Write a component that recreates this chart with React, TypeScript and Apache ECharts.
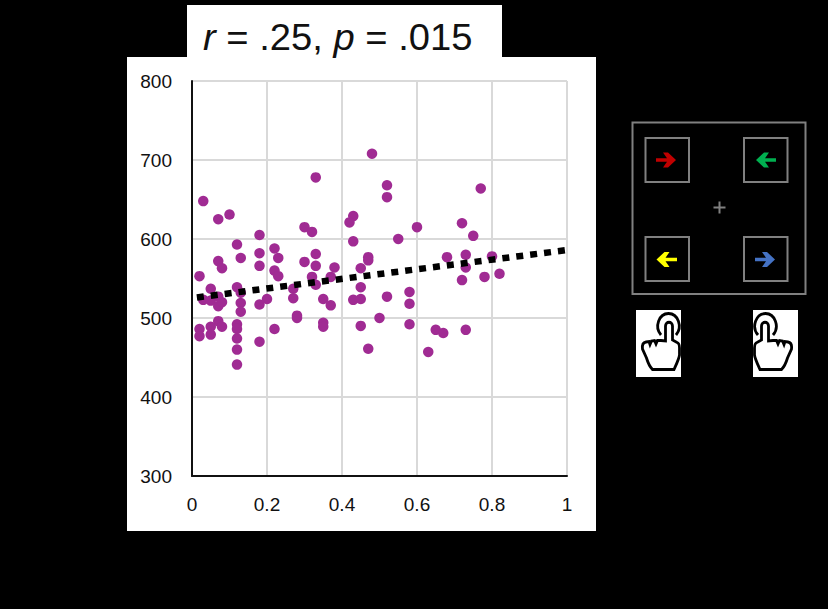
import React, { useEffect, useRef } from "react";
import * as echarts from "echarts";

const xValues = [
  0.03, 0.07, 0.1, 0.18, 0.12, 0.18, 0.13, 0.07, 0.08, 0.18, 0.02, 0.22, 0.23, 0.22, 0.23, 0.05, 0.12, 0.13, 0.03, 0.05,
  0.07, 0.07, 0.08, 0.13, 0.13, 0.18, 0.2, 0.27, 0.27, 0.28, 0.28, 0.02, 0.02, 0.05, 0.05, 0.07, 0.08, 0.12, 0.12, 0.12,
  0.12, 0.12, 0.18, 0.22, 0.3, 0.32, 0.33, 0.3, 0.33, 0.33, 0.38, 0.32, 0.33, 0.37, 0.35, 0.37, 0.35, 0.35, 0.43, 0.42,
  0.43, 0.47, 0.47, 0.45, 0.45, 0.43, 0.45, 0.5, 0.45, 0.47, 0.48, 0.52, 0.52, 0.6, 0.55, 0.77, 0.72, 0.75, 0.68, 0.73,
  0.73, 0.8, 0.72, 0.78, 0.82, 0.58, 0.58, 0.52, 0.58, 0.65, 0.67, 0.73, 0.63,
];
const yValues = [
  648, 625, 631, 605, 593, 582, 576, 572, 563, 566, 553, 588, 576, 560, 553, 537, 539, 532, 523, 522,
  527, 515, 520, 519, 508, 517, 524, 537, 525, 503, 500, 486, 477, 489, 479, 496, 489, 492, 486, 474,
  460, 441, 470, 486, 615, 609, 678, 571, 581, 566, 564, 552, 542, 552, 524, 516, 494, 489, 629, 621,
  597, 577, 573, 563, 539, 523, 524, 500, 490, 461, 708, 668, 653, 615, 600, 664, 620, 604, 577, 580,
  564, 578, 548, 552, 556, 533, 518, 527, 492, 485, 481, 485, 457,
];
const trendX = [0.013, 1];
const trendY = [526, 586];
const statR = ".25, ";
const statP = ".015";

const handPath =
  "M33.5 36 L33.5 21 C33.5 16 40.5 16 40.5 21 L40.5 35 L45 37.5 C47 38 47.5 40 47.5 43 L47.5 50 C47 54 44 60 42 64.5 L20.5 64.5 C18 62 16 58 14.5 53 L10.5 44 C10 40 11 37.5 14 37 L17 36.5 L18 39.5 L19.5 36 L22.5 35.5 L24 39 L25.5 35.5 L29 35.5 Z " +
  "M29 30 C22 22 27 8.5 36.5 8.5 C46 8.5 51 22 44 30";
echarts.graphic.registerShape("hand", echarts.graphic.extendPath(handPath, {}));

const box = (x: number, y: number, width: number, height: number, lineWidth: number) => ({
  type: "rect",
  shape: { x, y, width, height },
  style: { fill: "transparent", stroke: "#808080", lineWidth },
});

const arrow = (x1: number, x2: number, y: number, fill: string) => {
  const d = x2 > x1 ? 1 : -1;
  return {
    type: "polygon",
    shape: {
      points: [
        [x1, y - 1.8],
        [x2 - d * 9, y - 1.8],
        [x2 - d * 13, y - 7.5],
        [x2 - d * 8, y - 7.5],
        [x2, y],
        [x2 - d * 8, y + 7.5],
        [x2 - d * 13, y + 7.5],
        [x2 - d * 9, y + 1.8],
        [x1, y + 1.8],
      ],
    },
    style: { fill },
  };
};

export default function App() {
  const ref = useRef<HTMLDivElement>(null);
  useEffect(() => {
    document.body.style.margin = "0";
    document.body.style.background = "#000";
    const chart = echarts.init(ref.current!, null, { renderer: "svg" });
    const font = "'Liberation Sans', Arial, sans-serif";
    chart.setOption({
      animation: false,
      backgroundColor: "#000",
      grid: { left: 192, right: 261, top: 81, bottom: 133, containLabel: false },
      xAxis: {
        type: "value",
        min: 0,
        max: 1,
        interval: 0.2,
        axisLine: { show: true, onZero: false, lineStyle: { color: "#111", width: 2 } },
        axisTick: { show: false },
        splitLine: { show: true, lineStyle: { color: "#d9d9d9", width: 2 } },
        axisLabel: { color: "#111", fontFamily: font, fontSize: 19, margin: 19 },
      },
      yAxis: {
        type: "value",
        min: 300,
        max: 800,
        interval: 100,
        axisLine: { show: true, onZero: false, lineStyle: { color: "#111", width: 2 } },
        axisTick: { show: false },
        splitLine: { show: true, lineStyle: { color: "#d9d9d9", width: 2 } },
        axisLabel: { color: "#111", fontFamily: font, fontSize: 19, margin: 20 },
      },
      series: [
        {
          type: "scatter",
          symbol: "circle",
          symbolSize: 10.5,
          itemStyle: { color: "#a02b93", opacity: 1 },
          data: xValues.map((x, i) => [x, yValues[i]]),
          z: 3,
        },
        {
          type: "line",
          showSymbol: false,
          lineStyle: { color: "#000", width: 6.5, type: [7, 7] },
          data: trendX.map((x, i) => [x, trendY[i]]),
          z: 4,
        },
      ],
      graphic: {
        elements: [
          { type: "rect", z: -10, shape: { x: 127, y: 57, width: 469, height: 474 }, style: { fill: "#fff" } },
          { type: "rect", z: -10, shape: { x: 187, y: 5, width: 315, height: 53 }, style: { fill: "#fff" } },
          {
            type: "text",
            x: 203,
            y: 19,
            scaleX: 1.06,
            style: {
              text: "{i|r} = " + statR + "{i|p} = " + statP,
              fill: "#111",
              font: `36px ${font}`,
              rich: { i: { font: `italic 36px ${font}`, fill: "#111" } },
            },
          },
          box(632.5, 122.5, 173, 171.5, 2),
          box(645.5, 138, 43.5, 44, 2),
          box(744, 138, 43.5, 44, 2),
          box(645.5, 237, 43.5, 44, 2),
          box(744, 237, 43.5, 44, 2),
          { type: "line", shape: { x1: 713.5, y1: 207.5, x2: 725.5, y2: 207.5 }, style: { stroke: "#808080", lineWidth: 2 } },
          { type: "line", shape: { x1: 719.5, y1: 201.5, x2: 719.5, y2: 213.5 }, style: { stroke: "#808080", lineWidth: 2 } },
          arrow(656, 676, 160, "#c00000"),
          arrow(776, 756, 160, "#00b050"),
          arrow(677, 656.5, 259.5, "#ffff00"),
          arrow(755, 775, 259.5, "#4472c4"),
          { type: "rect", shape: { x: 636, y: 310, width: 45, height: 67 }, style: { fill: "#fff" } },
          { type: "rect", shape: { x: 753, y: 310, width: 45, height: 67 }, style: { fill: "#fff" } },
          { type: "hand", x: 632, y: 305, style: { fill: "transparent", stroke: "#000", lineWidth: 2.8 } },
          { type: "hand", x: 802, y: 305, scaleX: -1, style: { fill: "transparent", stroke: "#000", lineWidth: 2.8 } },
        ],
      },
    });
    return () => chart.dispose();
  }, []);
  return <div ref={ref} style={{ position: "absolute", left: 0, top: 0, width: 828, height: 609 }} />;
}
